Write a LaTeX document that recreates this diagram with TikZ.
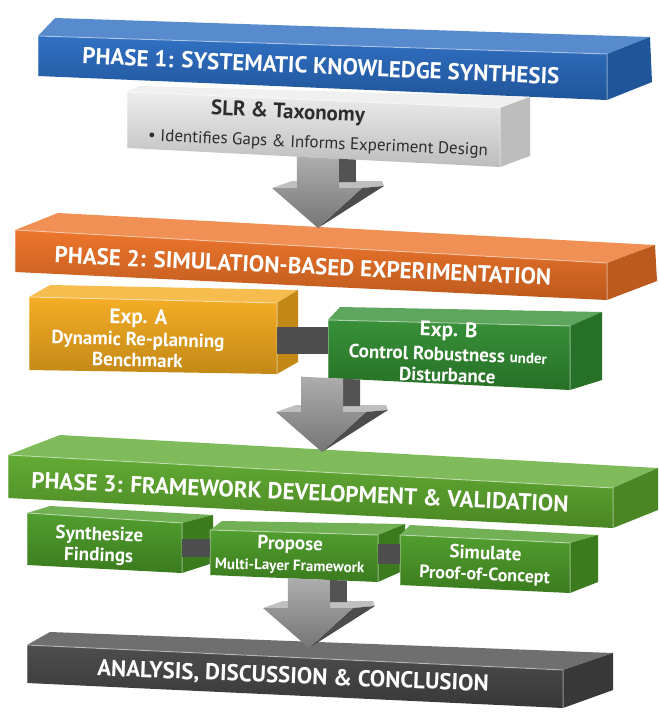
\documentclass[tikz,border=0pt]{standalone}
\usepackage{fontspec}
\setmainfont{PT Sans}
\usetikzlibrary{calc}

\definecolor{phaseblue}{RGB}{40,106,192}
\definecolor{slrgray}{RGB}{236,236,236}
\definecolor{phaseorange}{RGB}{236,112,36}
\definecolor{expyellow}{RGB}{244,170,28}
\definecolor{expgreen}{RGB}{48,140,48}
\definecolor{phasegreen}{RGB}{92,168,44}
\definecolor{stepgreen}{RGB}{74,154,38}
\definecolor{darkslab}{RGB}{70,70,70}
\definecolor{arrowgray}{RGB}{138,138,138}
\definecolor{stubgray}{RGB}{78,78,78}
\definecolor{textdark}{RGB}{45,45,45}

% 3D block: name, colour, front corners (tl, tr, br, bl), back-left, back-right, side bottom
\newcommand{\slab}[9]{%
  \coordinate (#1-tl) at (#3);
  \coordinate (#1-tr) at (#4);
  \coordinate (#1-br) at (#5);
  \coordinate (#1-bl) at (#6);
  \fill[#2!78!white] (#1-tl) -- (#1-tr) -- (#8) -- (#7) -- cycle;
  \fill[#2!80!black] (#1-tr) -- (#8) -- (#9) -- (#1-br) -- cycle;
  \shade[top color=#2!96!white, bottom color=#2!80!black]
    (#1-tl) -- (#1-tr) -- (#1-br) -- (#1-bl) -- cycle;
  \draw[white, opacity=.45, line width=1pt] (#1-bl) -- (#1-tl) -- (#1-tr) -- (#1-br);
}

% fat gray arrow hanging from block #1 down to the tip #2
\newcommand{\fatarrow}[2]{%
  \coordinate (fa-t) at (#2);
  \coordinate (fa-a) at ($(fa-t)+(-21,-200)$);
  \coordinate (fa-b) at ($(fa-t)+(-21,0)$);
  \coordinate (fa-c) at ($(fa-t)+(21,-200)$);
  \coordinate (fa-d) at ($(fa-t)+(21,0)$);
  \coordinate (fa-e) at ($(fa-t)+(38,-200)$);
  \coordinate (fa-f) at ($(fa-t)+(38,0)$);
  \coordinate (fa-l) at (intersection of #1-bl--#1-br and fa-a--fa-b);
  \coordinate (fa-m) at (intersection of #1-bl--#1-br and fa-c--fa-d);
  \coordinate (fa-r) at (intersection of #1-bl--#1-br and fa-e--fa-f);
  % upper faces of the head
  \fill[arrowgray!55!white] ($(fa-t)+(-46,-40)$) -- ($(fa-t)+(-26,-47)$) -- ($(fa-t)+(64,-47)$)
    -- ($(fa-t)+(66,-42)$) -- ($(fa-t)+(44,-40)$) -- cycle;
  % shaft side and head side
  \fill[arrowgray!60!black] (fa-m) -- (fa-r) -- ($(fa-t)+(38,-46)$) -- ($(fa-t)+(21,-46)$) -- cycle;
  \fill[arrowgray!55!black] ($(fa-t)+(44,-40)$) -- ($(fa-t)+(66,-42)$) -- (fa-t) -- cycle;
  % front
  \shade[top color=arrowgray!70!white, bottom color=arrowgray!85!black]
    (fa-l) -- (fa-m) -- ($(fa-t)+(21,-40)$) -- ($(fa-t)+(44,-40)$) -- (fa-t)
    -- ($(fa-t)+(-46,-40)$) -- ($(fa-t)+(-21,-40)$) -- cycle;
}

\begin{document}
\begin{tikzpicture}[x=1pt, y=-1pt,
    phase/.style={text=white, font=\bfseries\fontsize{23}{25}\selectfont, inner sep=0pt},
    boxtext/.style={text=white, font=\bfseries\fontsize{19}{21}\selectfont, align=center, inner sep=0pt},
    stub/.style={draw=stubgray}]
  \fill[white] (0,0) rectangle (659,724);
  \useasboundingbox (0,0) rectangle (659,724);

  % phase 1
  \slab{p1}{phaseblue}{38,36}{607,54}{607,100}{38,76}{55,18}{650,37}{652,82}
  \node[phase, rotate=-2.5] (p1) at (321,66) {PHASE 1: SYSTEMATIC KNOWLEDGE SYNTHESIS};

  \slab{slr}{slrgray}{127,92}{500,108}{500,167}{127,148}{140,86}{530,97}{530,156}
  \node[text=textdark, font=\bfseries\fontsize{21}{23}\selectfont, rotate=-2.5, inner sep=0pt]
    (slr) at (288,113) {SLR \& Taxonomy};
  \node[text=textdark, font=\fontsize{17}{19}\selectfont, rotate=-2.5, inner sep=0pt]
    (slr-note) at (318,144) {\textbullet\ Identifies Gaps \& Informs Experiment Design};

  % phase 2
  \slab{p2}{phaseorange}{15,230}{607,263}{607,300}{15,272}{58,213}{655,245}{657,281}
  \node[phase, rotate=-2.6] (p2) at (303,266) {PHASE 2: SIMULATION-BASED EXPERIMENTATION};
  \coordinate (a1) at (318,228);
  \fatarrow{slr}{a1}

  \slab{expa}{expyellow}{29,297}{277,303}{277,374}{29,370}{50,285}{298,290}{298,362}
  \node[boxtext, rotate=-1.5] (expa) at (138,338)
    {{\fontsize{21}{22}\selectfont Exp. A}\\[1pt] Dynamic Re-planning\\ Benchmark};
  \slab{expb}{expgreen}{328,320}{570,326}{570,390}{328,378}{340,307}{602,312}{602,380}
  \node[boxtext, rotate=-2] (expb) at (448,352)
    {{\fontsize{21}{22}\selectfont Exp. B}\\[3pt] Control Robustness {\fontsize{15}{16}\selectfont under}\\ Disturbance};
  \coordinate (expa-r) at ($(expa-tr)!.53!(expa-br)$);
  \draw[stub, line width=27pt] (expa-r) -- (expa-r -| expb-tl);

  % phase 3
  \slab{p3}{phasegreen}{8,455}{613,488}{613,528}{8,498}{60,435}{658,468}{658,510}
  \node[phase, rotate=-2.5] (p3) at (300,492) {PHASE 3: FRAMEWORK DEVELOPMENT \& VALIDATION};
  \coordinate (a2) at (322,452);
  \fatarrow{expb}{a2}

  \slab{synth}{stepgreen}{27,513}{182,523}{182,573}{27,565}{50,506}{213,515}{213,563}
  \node[boxtext, rotate=-2] (synth) at (99,546) {Synthesize\\ Findings};
  \slab{prop}{stepgreen}{210,530}{378,535}{378,582}{210,575}{222,521}{405,524}{405,570}
  \node[boxtext, rotate=-1.5] (prop) at (290,555)
    {Propose\\ {\fontsize{15}{16}\selectfont Multi-Layer Framework}};
  \coordinate (synth-r) at ($(synth-tr)!.5!(synth-br)$);
  \draw[stub, line width=18pt] (synth-r) -- (synth-r -| prop-tl);
  \slab{sim}{stepgreen}{400,535}{570,543}{570,593}{400,585}{410,525}{598,535}{598,582}
  \node[boxtext, rotate=-2.5] (sim) at (485,565)
    {Simulate\\ {\fontsize{18}{20}\selectfont Proof-of-Concept}};
  \coordinate (prop-r) at ($(prop-tr)!.4!(prop-br)$);
  \draw[stub, line width=20pt] (prop-r) -- (prop-r -| sim-tl);

  % closing block
  \slab{end}{darkslab}{27,645}{563,670}{563,708}{27,683}{50,632}{613,653}{613,690}
  \node[phase, rotate=-2.3] (end) at (293,677) {ANALYSIS, DISCUSSION \& CONCLUSION};
  \coordinate (a3) at (309,648);
  \fatarrow{prop}{a3}
\end{tikzpicture}
\end{document}
